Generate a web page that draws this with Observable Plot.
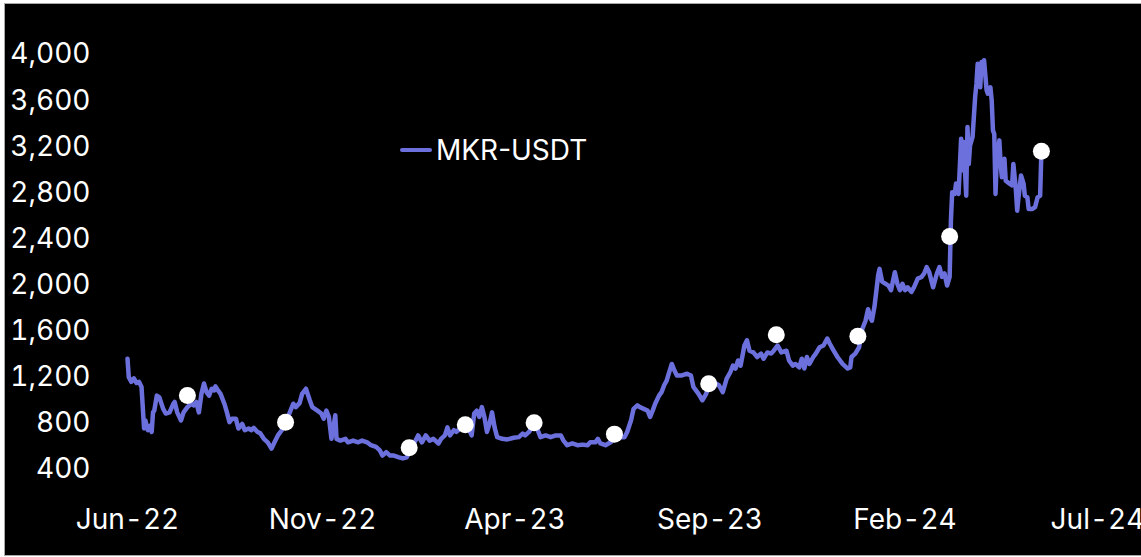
<!DOCTYPE html>
<html>
<head>
<meta charset="utf-8">
<script src="https://cdn.jsdelivr.net/npm/d3@7"></script>
<script src="https://cdn.jsdelivr.net/npm/@observablehq/plot@0.6"></script>
<style>
  html, body { margin: 0; padding: 0; background: #ffffff; width: 1141px; height: 557px; overflow: hidden; }
  #frame { position: absolute; left: 4px; top: 3px; width: 1140px; height: 551px; background: #000; border-left: 1px solid #a8a8a8; border-top: 1px solid #a8a8a8; border-bottom: 1px solid #a8a8a8; }
  #chart { position: absolute; left: 0; top: 0; }
  #legend { position: absolute; left: 400px; top: 133px; display: flex; align-items: center; font-family: Inter, "Open Sans", sans-serif; font-size: 28px; color: #fff; }
  #legend .sw { width: 32px; height: 4.5px; border-radius: 2px; background: #6b70dc; margin-right: 4px; }
</style>
</head>
<body>
<div id="frame"></div>
<div id="chart"></div>
<div id="legend"><span class="sw"></span><span>MKR-USDT</span></div>
<script>
const seriesName = "MKR-USDT";
const dates = [
"2022-06-01","2022-06-02","2022-06-04","2022-06-06","2022-06-08","2022-06-10","2022-06-12","2022-06-14","2022-06-15","2022-06-17",
"2022-06-19","2022-06-20","2022-06-21","2022-06-22","2022-06-24","2022-06-26","2022-06-29","2022-07-01","2022-07-04","2022-07-07",
"2022-07-08","2022-07-10","2022-07-13","2022-07-15","2022-07-18","2022-07-21","2022-07-23","2022-07-25","2022-07-27","2022-07-29",
"2022-07-31","2022-08-02","2022-08-04","2022-08-06","2022-08-08","2022-08-09","2022-08-11","2022-08-13","2022-08-16","2022-08-18",
"2022-08-20","2022-08-22","2022-08-25","2022-08-27","2022-08-30","2022-09-01","2022-09-04","2022-09-06","2022-09-08","2022-09-11",
"2022-09-13","2022-09-16","2022-09-19","2022-09-22","2022-09-25","2022-09-27","2022-09-30","2022-10-03","2022-10-06","2022-10-09",
"2022-10-11","2022-10-14","2022-10-16","2022-10-19","2022-10-22","2022-10-24","2022-10-28","2022-10-31","2022-11-02","2022-11-04",
"2022-11-06","2022-11-08","2022-11-10","2022-11-11","2022-11-12","2022-11-15","2022-11-19","2022-11-21","2022-11-25","2022-11-29",
"2022-12-02","2022-12-06","2022-12-09","2022-12-13","2022-12-16","2022-12-18","2022-12-21","2022-12-24","2022-12-27","2022-12-31",
"2023-01-03","2023-01-06","2023-01-09","2023-01-13","2023-01-15","2023-01-18","2023-01-21","2023-01-24","2023-01-27","2023-01-31",
"2023-02-02","2023-02-05","2023-02-07","2023-02-09","2023-02-12","2023-02-14","2023-02-17","2023-02-20","2023-02-23","2023-02-26",
"2023-02-28","2023-03-02","2023-03-04","2023-03-06","2023-03-08","2023-03-10","2023-03-12","2023-03-14","2023-03-16","2023-03-18",
"2023-03-22","2023-03-26","2023-03-31","2023-04-04","2023-04-07","2023-04-09","2023-04-12","2023-04-16","2023-04-18","2023-04-21",
"2023-04-25","2023-04-29","2023-05-03","2023-05-07","2023-05-09","2023-05-12","2023-05-16","2023-05-20","2023-05-24","2023-05-28",
"2023-05-30","2023-06-03","2023-06-05","2023-06-07","2023-06-11","2023-06-15","2023-06-19","2023-06-23","2023-06-26","2023-06-28",
"2023-07-01","2023-07-03","2023-07-06","2023-07-08","2023-07-11","2023-07-14","2023-07-16","2023-07-18","2023-07-20","2023-07-23",
"2023-07-25","2023-07-27","2023-07-29","2023-07-31","2023-08-02","2023-08-04","2023-08-06","2023-08-10","2023-08-14","2023-08-17",
"2023-08-19","2023-08-21","2023-08-23","2023-08-26","2023-08-29","2023-08-31","2023-09-04","2023-09-08","2023-09-11","2023-09-14",
"2023-09-17","2023-09-19","2023-09-21","2023-09-23","2023-09-25","2023-09-28","2023-09-30","2023-10-02","2023-10-05","2023-10-08",
"2023-10-11","2023-10-13","2023-10-16","2023-10-19","2023-10-21","2023-10-24","2023-10-27","2023-10-31","2023-11-02","2023-11-05",
"2023-11-07","2023-11-10","2023-11-12","2023-11-14","2023-11-16","2023-11-18","2023-11-21","2023-11-23","2023-11-26","2023-11-29",
"2023-12-02","2023-12-04","2023-12-07","2023-12-10","2023-12-14","2023-12-18","2023-12-20","2023-12-21","2023-12-24","2023-12-27",
"2023-12-29","2024-01-01","2024-01-03","2024-01-05","2024-01-06","2024-01-08","2024-01-11","2024-01-12","2024-01-14","2024-01-19",
"2024-01-21","2024-01-24","2024-01-26","2024-01-28","2024-01-30","2024-02-01","2024-02-03","2024-02-06","2024-02-08","2024-02-11",
"2024-02-14","2024-02-16","2024-02-18","2024-02-20","2024-02-23","2024-02-26","2024-02-28","2024-03-01","2024-03-03","2024-03-05",
"2024-03-07","2024-03-08","2024-03-09","2024-03-11","2024-03-12","2024-03-14","2024-03-16","2024-03-17","2024-03-18","2024-03-20",
"2024-03-21","2024-03-22","2024-03-23","2024-03-25","2024-03-27","2024-03-28","2024-03-29","2024-03-31","2024-04-01","2024-04-02",
"2024-04-03","2024-04-05","2024-04-06","2024-04-08","2024-04-09","2024-04-10","2024-04-11","2024-04-12","2024-04-13","2024-04-15",
"2024-04-16","2024-04-17","2024-04-19","2024-04-20","2024-04-23","2024-04-25","2024-04-26","2024-04-28","2024-04-29","2024-04-30",
"2024-05-02","2024-05-04","2024-05-05","2024-05-07","2024-05-08","2024-05-11","2024-05-13","2024-05-15","2024-05-17","2024-05-18"
];
const prices = [
1360,1200,1160,1190,1150,1160,1115,755,825,740,
780,725,895,910,1040,1025,925,885,895,970,
985,895,825,895,940,970,955,985,895,1055,
1145,1070,1040,1100,1085,1120,1085,1055,970,895,
810,840,840,755,795,740,755,740,760,725,
715,665,635,580,650,695,740,810,885,970,
940,975,1055,1100,1000,940,910,885,840,910,
855,665,795,870,665,650,665,635,650,635,
650,635,610,595,565,520,550,520,520,505,
495,505,580,650,695,635,695,650,665,625,
665,695,765,695,740,725,755,780,765,695,
885,910,855,940,855,725,795,895,765,680,
665,660,675,680,710,695,725,795,765,680,
695,680,695,695,650,610,625,610,615,610,
635,635,665,625,610,635,680,680,680,725,
825,925,955,940,925,910,855,910,970,1040,
1070,1130,1170,1245,1315,1260,1215,1215,1230,1215,
1115,1085,1055,1000,1055,1145,1155,1130,1070,1185,
1245,1300,1275,1345,1300,1475,1520,1430,1415,1375,
1405,1360,1415,1405,1430,1475,1415,1430,1345,1300,
1315,1285,1360,1275,1375,1315,1375,1405,1460,1475,
1535,1490,1430,1375,1315,1275,1285,1375,1405,1460,
1605,1690,1790,1710,1690,1810,2090,2140,2030,1995,
1955,2110,2010,1955,2010,1955,1980,1940,1980,2055,
2070,2100,2155,2110,1980,2100,2155,2070,2100,1995,
2070,2560,2805,2790,2880,2790,3270,2995,3240,2775,
3370,3050,3210,3285,3630,3745,3920,3715,3935,3860,
3950,3690,3660,3715,3600,3340,3310,2790,3110,3255,
3050,2935,3095,2905,2880,2865,3050,2820,2645,2760,
2950,2880,2775,2760,2660,2660,2675,2760,2775,3165
];
const eventDates = ["2022-07-18","2022-10-03","2023-01-08","2023-02-21","2023-04-16","2023-06-18","2023-08-31","2023-10-23","2023-12-26","2024-03-07","2024-05-18"];
const eventPrices = [1042,810,588,788,805,706,1143,1568,1556,2421,3161];
const xTickDates = ["2022-06-01","2022-11-01","2023-04-01","2023-09-01","2024-02-01","2024-07-01"];
const yTickValues = [400,800,1200,1600,2000,2400,2800,3200,3600,4000];

const series = dates.map((d, i) => ({date: new Date(d), price: prices[i], name: seriesName}));
const events = eventDates.map((d, i) => ({date: new Date(d), price: eventPrices[i]}));
const xTicks = xTickDates.map(d => new Date(d));
const fmt = d3.utcFormat("%b-%y");

const chart = Plot.plot({
  width: 1141,
  height: 557,
  marginLeft: 127,
  marginRight: 44,
  marginTop: 54,
  marginBottom: 42,
  style: {background: "transparent", color: "#ffffff", fontFamily: "Inter, 'Open Sans', sans-serif", fontSize: "28px"},
  x: {type: "utc", domain: [new Date("2022-06-01"), new Date("2024-07-01")]},
  y: {domain: [0, 4000]},
  marks: [
    Plot.axisY({ticks: yTickValues, tickSize: 0, tickPadding: 37, tickFormat: d3.format(","), label: null, fill: "#ffffff"}),
    Plot.axisX({ticks: xTicks, tickSize: 0, tickPadding: -6, tickFormat: fmt, label: null, fill: "#ffffff"}),
    Plot.line(series, {x: "date", y: "price", stroke: "#6b70dc", strokeWidth: 4.5, strokeLinejoin: "round", strokeLinecap: "round"}),
    Plot.dot(events, {x: "date", y: "price", r: 8.5, fill: "#ffffff", stroke: "none"})
  ]
});
document.getElementById("chart").appendChild(chart);
</script>
</body>
</html>
